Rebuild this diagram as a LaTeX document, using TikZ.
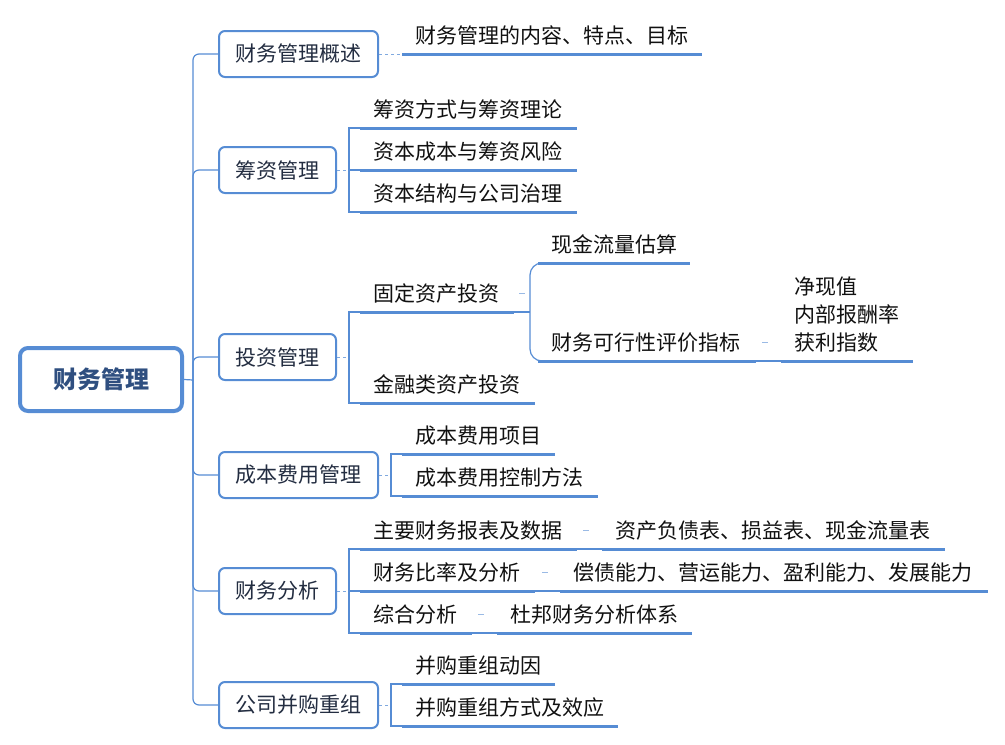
\documentclass[tikz,border=0pt]{standalone}
\usepackage{fontspec}
\setmainfont{Noto Sans CJK SC}
\definecolor{lblue}{RGB}{86,140,212}
\definecolor{rtext}{RGB}{47,79,128}
\definecolor{btext}{RGB}{35,45,65}
\definecolor{ltext}{RGB}{17,17,17}
\tikzset{
 box/.style={draw=lblue, line width=2pt, rounded corners=6pt, fill=white, minimum height=46pt, inner sep=0pt, text=btext, font=\fontsize{21}{25}\selectfont},
 leaf/.style={anchor=south west, inner xsep=13pt, inner ysep=0pt, text height=17pt, text depth=10pt, align=left, text width=#1, text=ltext, font=\fontsize{21}{25}\selectfont},
 ul/.style={draw=lblue, line width=3pt},
 conn/.style={draw=lblue, line width=1.2pt},
 dconn/.style={draw=lblue!75, line width=1pt, dash pattern=on 3pt off 3pt},
 tick/.style={draw=lblue!60, line width=1pt},
}
\begin{document}
\begin{tikzpicture}[x=1pt,y=-1pt]
\useasboundingbox (0,0) rectangle (1005,745);
% root
\node[draw=lblue, line width=4pt, rounded corners=8pt, minimum width=162pt, minimum height=63pt, inner sep=0pt, text=rtext, font=\fontsize{24}{28}\selectfont\bfseries] (root) at (101,379.5) {财务管理};
% level 1 boxes
\node[box, minimum width=159pt] (b1) at (298.5,54) {财务管理概述};
\node[box, minimum width=117pt] (b2) at (277.5,170) {筹资管理};
\node[box, minimum width=117pt] (b3) at (277.5,357) {投资管理};
\node[box, minimum width=159pt] (b4) at (298.5,475) {成本费用管理};
\node[box, minimum width=117pt] (b5) at (277.5,591) {财务分析};
\node[box, minimum width=159pt] (b6) at (298.5,705) {公司并购重组};
% leaves
\node[leaf=274pt] (A1) at (402,54) {财务管理的内容、特点、目标};
\node[leaf=191pt] (B1) at (360,128) {筹资方式与筹资理论};
\node[leaf=191pt] (B2) at (360,170) {资本成本与筹资风险};
\node[leaf=191pt] (B3) at (360,212) {资本结构与公司治理};
\node[leaf=128pt] (C1) at (360,312) {固定资产投资};
\node[leaf=149pt] (C2) at (360,403) {金融类资产投资};
\node[leaf=126pt] (C11) at (538,263) {现金流量估算};
\node[leaf=192pt] (C12) at (538,361) {财务可行性评价指标};
\node[anchor=south west, inner xsep=13pt, inner ysep=0pt, text depth=10pt, text=ltext, font=\fontsize{21}{28}\selectfont] (C121) at (781,361) {\parbox[b]{106pt}{\raggedright 净现值\\内部报酬率\\获利指数}};
\node[leaf=127pt] (D1) at (402,454) {成本费用项目};
\node[leaf=170pt] (D2) at (402,496) {成本费用控制方法};
\node[leaf=191pt] (E1) at (360,549) {主要财务报表及数据};
\node[leaf=317pt] (E11) at (602,549) {资产负债表、损益表、现金流量表};
\node[leaf=149pt] (E2) at (360,591) {财务比率及分析};
\node[leaf=402pt] (E21) at (560,591) {偿债能力、营运能力、盈利能力、发展能力};
\node[leaf=86pt] (E3) at (360,633) {综合分析};
\node[leaf=169pt] (E31) at (497,633) {杜邦财务分析体系};
\node[leaf=127pt] (F1) at (402,684) {并购重组动因};
\node[leaf=190pt] (F2) at (402,726) {并购重组方式及效应};
% underlines
\foreach \n in {A1,B1,B2,B3,C1,C2,C11,C12,C121,D1,D2,E1,E11,E2,E21,E3,E31,F1,F2}
  \draw[ul] (\n.south west) -- (\n.south east);
% trunk
\coordinate (tr) at (193,380);
\draw[conn] (root.east) -- (tr);
\foreach \b in {b1,b2,b3,b4,b5,b6}
  \draw[conn, rounded corners=6pt] (tr) |- (\b.west);
% level 2 connectors
\draw[dconn] (b1.east) -- (A1.south west);
\coordinate (k2) at (349,170);
\draw[dconn] (b2.east) -- (k2);
\draw[conn] (B1.south west) -| (k2) |- (B3.south west);
\draw[conn] (k2) -- (B2.south west);
\coordinate (k3) at (349,357);
\draw[dconn] (b3.east) -- (k3);
\draw[conn] (C1.south west) -| (k3) |- (C2.south west);
\coordinate (k31) at (530,312);
\draw[conn] (C1.south east) -- (k31);
\draw[conn, rounded corners=12pt] (C11.south west) -| (k31) |- (C12.south west);
\draw[conn] (C12.south east) -- (C121.south west);
\coordinate (k4) at (391,475);
\draw[dconn] (b4.east) -- (k4);
\draw[conn] (D1.south west) -| (k4) |- (D2.south west);
\coordinate (k5) at (349,591);
\draw[dconn] (b5.east) -- (k5);
\draw[conn] (E1.south west) -| (k5) |- (E3.south west);
\draw[conn] (k5) -- (E2.south west);
\draw[conn] (E1.south east) -- (E11.south west);
\draw[conn] (E2.south east) -- (E21.south west);
\draw[conn] (E3.south east) -- (E31.south west);
\coordinate (k6) at (391,705);
\draw[dconn] (b6.east) -- (k6);
\draw[conn] (F1.south west) -| (k6) |- (F2.south west);
% small ticks
\coordinate (t1a) at (519,293); \coordinate (t1b) at (525,293);
\draw[tick] (t1a) -- (t1b);
\coordinate (t2a) at (762,342); \coordinate (t2b) at (768,342);
\draw[tick] (t2a) -- (t2b);
\coordinate (t3a) at (583,530); \coordinate (t3b) at (589,530);
\draw[tick] (t3a) -- (t3b);
\coordinate (t4a) at (542,572); \coordinate (t4b) at (548,572);
\draw[tick] (t4a) -- (t4b);
\coordinate (t5a) at (478,614); \coordinate (t5b) at (484,614);
\draw[tick] (t5a) -- (t5b);
\end{tikzpicture}
\end{document}
